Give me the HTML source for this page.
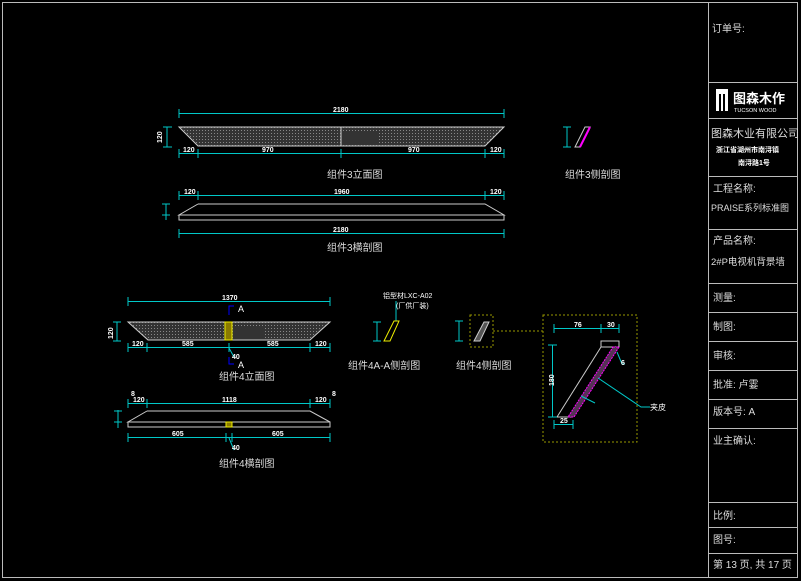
<!DOCTYPE html>
<html><head><meta charset="utf-8"><style>
html,body{margin:0;padding:0;background:#000;}
svg{display:block;}
text{font-family:"Liberation Sans","Noto Sans CJK SC",sans-serif;fill:#fff;}
.d{stroke:#00c8c8;stroke-width:1;fill:none;}
.w{stroke:#ccc;stroke-width:1;fill:none;}
.dt{font-size:7px;font-weight:bold;}
.t{font-size:10px;fill:#ddd;}
.tb{font-size:10px;fill:#ddd;}
</style></head><body>
<svg width="801" height="581" viewBox="0 0 801 581" xmlns="http://www.w3.org/2000/svg">
<defs>
<pattern id="dots" width="3" height="3" patternUnits="userSpaceOnUse"><rect width="3" height="3" fill="#333"/><rect x="1" y="1" width="1" height="1" fill="#888"/></pattern>
</defs>
<rect x="0" y="0" width="801" height="581" fill="#000"/>
<!-- frame -->
<rect x="2.5" y="2.5" width="795" height="575" fill="none" stroke="#bbb"/>
<line x1="708.5" y1="2" x2="708.5" y2="578" stroke="#bbb"/>
<g stroke="#bbb">
<line x1="709" y1="82.5" x2="797" y2="82.5"/>
<line x1="709" y1="118.5" x2="797" y2="118.5"/>
<line x1="709" y1="176.5" x2="797" y2="176.5"/>
<line x1="709" y1="229.5" x2="797" y2="229.5"/>
<line x1="709" y1="283.5" x2="797" y2="283.5"/>
<line x1="709" y1="312.5" x2="797" y2="312.5"/>
<line x1="709" y1="341.5" x2="797" y2="341.5"/>
<line x1="709" y1="370.5" x2="797" y2="370.5"/>
<line x1="709" y1="399.5" x2="797" y2="399.5"/>
<line x1="709" y1="428.5" x2="797" y2="428.5"/>
<line x1="709" y1="502.5" x2="797" y2="502.5"/>
<line x1="709" y1="527.5" x2="797" y2="527.5"/>
<line x1="709" y1="553.5" x2="797" y2="553.5"/>
</g>
<text x="712" y="32" class="tb">订单号:</text>
<rect x="716" y="89" width="12" height="22" fill="#fff"/>
<rect x="719" y="94" width="2" height="17" fill="#000"/><rect x="723" y="94" width="2" height="17" fill="#000"/>
<text x="733" y="103" style="font-size:13px;font-weight:bold">图森木作</text>
<text x="734" y="112" style="font-size:5.5px">TUCSON WOOD</text>
<text x="711" y="137" style="font-size:11px;fill:#ddd">图森木业有限公司</text>
<text x="716" y="152" style="font-size:7px;font-weight:bold">浙江省湖州市南浔镇</text>
<text x="738" y="165" style="font-size:7px;font-weight:bold">南浔路1号</text>
<text x="713" y="192" class="tb">工程名称:</text>
<text x="711" y="211" style="font-size:9px;fill:#ddd">PRAISE系列标准图</text>
<text x="713" y="244" class="tb">产品名称:</text>
<text x="711" y="265" style="font-size:9.5px;fill:#ddd">2#P电视机背景墙</text>
<text x="713" y="301" class="tb">测量:</text>
<text x="713" y="330" class="tb">制图:</text>
<text x="713" y="359" class="tb">审核:</text>
<text x="713" y="388" class="tb">批准: 卢霎</text>
<text x="713" y="415" class="tb">版本号:    A</text>
<text x="713" y="444" class="tb">业主确认:</text>
<text x="713" y="519" class="tb">比例:</text>
<text x="713" y="543" class="tb">图号:</text>
<text x="713" y="568" class="tb">第 13 页, 共  17  页</text>

<!-- Component 3 elevation -->
<g class="d">
<line x1="179" y1="113.5" x2="504" y2="113.5"/><line x1="179" y1="109" x2="179" y2="118"/><line x1="504" y1="109" x2="504" y2="118"/>
<line x1="179" y1="153.5" x2="504" y2="153.5"/>
<line x1="179" y1="149" x2="179" y2="158"/><line x1="198" y1="149" x2="198" y2="158"/><line x1="341" y1="149" x2="341" y2="158"/><line x1="485" y1="149" x2="485" y2="158"/><line x1="504" y1="149" x2="504" y2="158"/>
<line x1="167" y1="127" x2="167" y2="147"/><line x1="163" y1="127" x2="172" y2="127"/><line x1="163" y1="147" x2="172" y2="147"/>
</g>
<polygon points="179,127 504,127 485,146 198,146" fill="url(#dots)" stroke="#ccc"/>
<line x1="341" y1="127" x2="341" y2="146" stroke="#ccc"/>
<rect x="343" y="131" width="35" height="12" fill="#333"/>
<text x="333" y="112" class="dt">2180</text>
<text x="183" y="152" class="dt">120</text><text x="262" y="152" class="dt">970</text><text x="408" y="152" class="dt">970</text><text x="490" y="152" class="dt">120</text>
<text x="162" y="143" class="dt" transform="rotate(-90 162 143)">120</text>
<text x="327" y="178" class="t">组件3立面图</text>

<!-- Component 3 section -->
<g class="d">
<line x1="179" y1="195.5" x2="504" y2="195.5"/>
<line x1="179" y1="191" x2="179" y2="200"/><line x1="198" y1="191" x2="198" y2="200"/><line x1="485" y1="191" x2="485" y2="200"/><line x1="504" y1="191" x2="504" y2="200"/>
<line x1="179" y1="233.5" x2="504" y2="233.5"/><line x1="179" y1="229" x2="179" y2="238"/><line x1="504" y1="229" x2="504" y2="238"/>
<line x1="166" y1="204" x2="166" y2="220"/><line x1="162" y1="204" x2="170" y2="204"/><line x1="162" y1="215" x2="170" y2="215"/>
</g>
<polyline points="198,204 485,204 504,215 179,215 198,204" class="w"/>
<rect x="179" y="215" width="325" height="5" class="w"/>
<text x="184" y="194" class="dt">120</text><text x="334" y="194" class="dt">1960</text><text x="490" y="194" class="dt">120</text>
<text x="333" y="232" class="dt">2180</text>
<text x="327" y="251" class="t">组件3横剖图</text>

<!-- Component 3 side -->
<g class="d"><line x1="567" y1="127" x2="567" y2="147"/><line x1="563" y1="127" x2="571" y2="127"/><line x1="563" y1="147" x2="571" y2="147"/></g>
<polygon points="585,127 590,127 580,147 575,147" fill="none" stroke="#ccc"/>
<line x1="590" y1="127" x2="580" y2="147" stroke="#f0f" stroke-width="2"/>
<text x="565" y="178" class="t">组件3侧剖图</text>

<!-- Component 4 elevation -->
<g class="d">
<line x1="128" y1="301.5" x2="330" y2="301.5"/><line x1="128" y1="297" x2="128" y2="306"/><line x1="330" y1="297" x2="330" y2="306"/>
<line x1="128" y1="347.5" x2="330" y2="347.5"/>
<line x1="128" y1="343" x2="128" y2="352"/><line x1="147" y1="343" x2="147" y2="352"/><line x1="229" y1="343" x2="229" y2="352"/><line x1="310" y1="343" x2="310" y2="352"/><line x1="330" y1="343" x2="330" y2="352"/>
<line x1="117" y1="322" x2="117" y2="341"/><line x1="113" y1="322" x2="121" y2="322"/><line x1="113" y1="341" x2="121" y2="341"/>
<line x1="229" y1="348" x2="234" y2="357"/>
</g>
<polygon points="128,322 330,322 310,340 148,340" fill="url(#dots)" stroke="#ccc"/>
<rect x="233" y="326" width="30" height="12" fill="#333"/>
<rect x="225" y="322" width="7" height="18" fill="#8a7a00" stroke="#ee0"/>
<polyline points="229,315 229,306 234,306" stroke="#00f" fill="none"/>
<polyline points="229,357 229,364 234,364" stroke="#00f" fill="none"/>
<text x="238" y="312" style="font-size:9px">A</text><text x="238" y="368" style="font-size:9px">A</text>
<text x="222" y="300" class="dt">1370</text>
<text x="132" y="346" class="dt">120</text><text x="182" y="346" class="dt">585</text><text x="267" y="346" class="dt">585</text><text x="315" y="346" class="dt">120</text>
<text x="232" y="359" class="dt">40</text>
<text x="113" y="339" class="dt" transform="rotate(-90 113 339)">120</text>
<text x="219" y="380" class="t">组件4立面图</text>

<!-- Component 4 section -->
<g class="d">
<line x1="128" y1="403.5" x2="330" y2="403.5"/>
<line x1="128" y1="399" x2="128" y2="408"/><line x1="147" y1="399" x2="147" y2="408"/><line x1="310" y1="399" x2="310" y2="408"/><line x1="330" y1="399" x2="330" y2="408"/>
<line x1="128" y1="437.5" x2="330" y2="437.5"/>
<line x1="128" y1="433" x2="128" y2="442"/><line x1="226" y1="433" x2="226" y2="442"/><line x1="232" y1="433" x2="232" y2="442"/><line x1="330" y1="433" x2="330" y2="442"/>
<line x1="118" y1="410" x2="118" y2="428"/><line x1="114" y1="411" x2="122" y2="411"/><line x1="114" y1="422" x2="122" y2="422"/>
<line x1="229" y1="438" x2="234" y2="450"/>
</g>
<polyline points="147,411 310,411 330,422 128,422 147,411" class="w"/>
<rect x="128" y="422" width="202" height="5" class="w"/>
<rect x="226" y="422" width="6" height="5" fill="#8a7a00" stroke="#ee0"/>
<text x="133" y="402" class="dt">120</text><text x="222" y="402" class="dt">1118</text><text x="315" y="402" class="dt">120</text>
<text x="172" y="436" class="dt">605</text><text x="272" y="436" class="dt">605</text><text x="232" y="450" class="dt">40</text>
<text x="131" y="396" class="dt">8</text><text x="332" y="396" class="dt">8</text>
<text x="219" y="467" class="t">组件4横剖图</text>

<!-- 4A-A side -->
<line x1="396" y1="321" x2="396" y2="301" stroke="#00c8c8"/>
<g class="d"><line x1="377" y1="322" x2="377" y2="341"/><line x1="373" y1="322" x2="381" y2="322"/><line x1="373" y1="341" x2="381" y2="341"/></g>
<polygon points="394,321 399,321 390,341 384,341" fill="none" stroke="#ee0"/>
<text x="383" y="298" style="font-size:7px">铝型材LXC-A02</text>
<text x="396" y="308" style="font-size:7px">(厂供厂装)</text>
<text x="348" y="369" class="t">组件4A-A侧剖图</text>

<!-- 4 side -->
<rect x="470" y="315" width="23" height="32" fill="none" stroke="#990" stroke-dasharray="2,2"/>
<g class="d"><line x1="459" y1="321" x2="459" y2="341"/><line x1="455" y1="321" x2="463" y2="321"/><line x1="455" y1="341" x2="463" y2="341"/></g>
<polygon points="484,322 489,322 480,341 474,341" fill="#555" stroke="#ccc"/>
<line x1="493" y1="331" x2="543" y2="331" stroke="#990" stroke-dasharray="2,2"/>
<text x="456" y="369" class="t">组件4侧剖图</text>

<!-- big detail -->
<rect x="543" y="315" width="94" height="127" fill="none" stroke="#990" stroke-dasharray="2,2"/>
<rect x="601" y="341" width="18" height="6" fill="none" stroke="#ccc"/>
<line x1="601" y1="347" x2="557" y2="417" stroke="#ccc"/>
<line x1="557" y1="417" x2="573" y2="417" stroke="#ccc"/>
<polygon points="613,347 619,347 574,417 568,417" fill="#553355" stroke="#f0f" stroke-dasharray="2,1"/>
<g class="d">
<line x1="554" y1="328.5" x2="619" y2="328.5"/><line x1="554" y1="324" x2="554" y2="333"/><line x1="601" y1="324" x2="601" y2="333"/><line x1="619" y1="324" x2="619" y2="333"/>
<line x1="552.5" y1="345" x2="552.5" y2="417"/><line x1="548" y1="345" x2="557" y2="345"/><line x1="548" y1="417" x2="557" y2="417"/>
<line x1="554" y1="424.5" x2="573" y2="424.5"/><line x1="554" y1="420" x2="554" y2="429"/><line x1="573" y1="420" x2="573" y2="429"/>
<polyline points="598,378 641,407 650,407"/>
<polyline points="617,352 622,364 625,364"/>
<line x1="581" y1="396" x2="595" y2="403"/>
</g>
<text x="574" y="327" class="dt">76</text><text x="607" y="327" class="dt">30</text>
<text x="560" y="423" class="dt">25</text>
<text x="554" y="386" class="dt" transform="rotate(-90 554 386)">180</text>
<text x="621" y="365" class="dt">6</text>
<text x="650" y="410" style="font-size:8px">夹皮</text>
</svg>
</body></html>
